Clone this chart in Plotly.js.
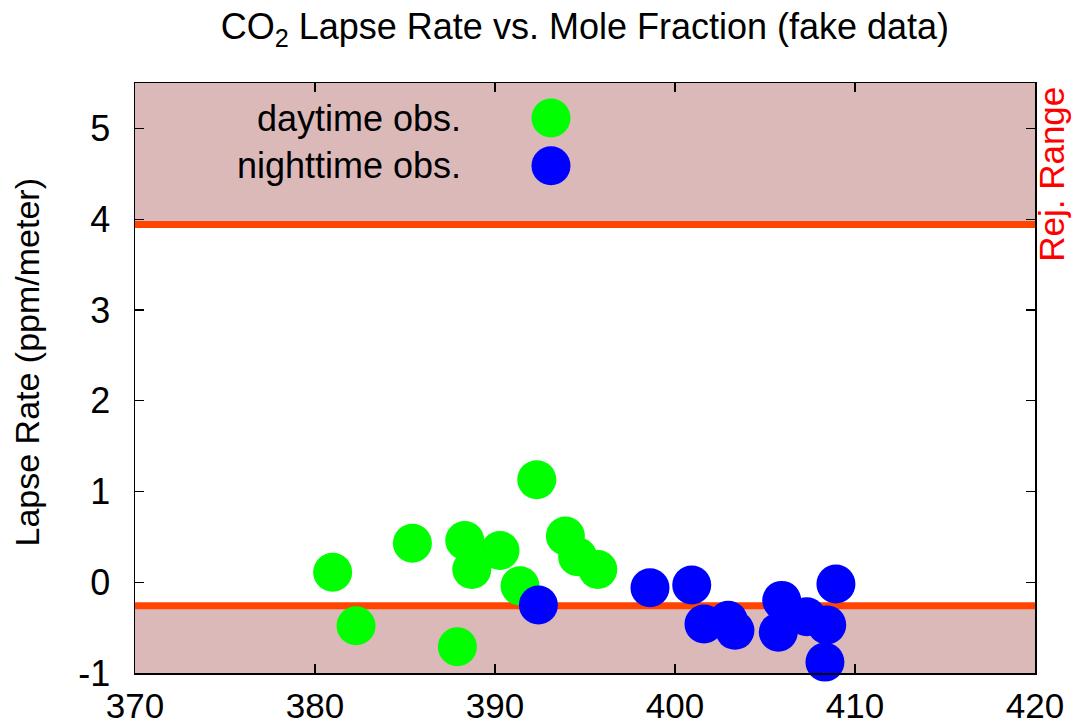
<!DOCTYPE html>
<html>
<head>
<meta charset="utf-8">
<script src="https://cdn.plot.ly/plotly-3.0.1.min.js"></script>
<style>html,body{margin:0;padding:0;background:#fff;}#chart{width:1076px;height:727px;}</style>
</head>
<body>
<div id="chart"></div>
<script>
// Data
const dayX = [380.98, 382.28, 385.41, 387.91, 388.32, 388.71, 390.28, 391.39, 392.32, 393.91, 394.59, 395.71];
const dayY = [0.11, -0.48, 0.43, -0.71, 0.46, 0.14, 0.35, -0.04, 1.13, 0.51, 0.28, 0.14];
const nightX = [392.41, 398.61, 400.93, 401.61, 402.96, 403.33, 405.74, 405.93, 407.32, 408.43, 408.33, 408.94];
const nightY = [-0.25, -0.06, -0.03, -0.46, -0.42, -0.53, -0.55, -0.20, -0.38, -0.47, -0.88, -0.02];
const rejectLow = -0.26;
const rejectHigh = 3.94;
const legendNames = ['daytime obs.', 'nighttime obs.'];
const xTicks = [370, 380, 390, 400, 410, 420];
const yTicks = [-1, 0, 1, 2, 3, 4, 5];

const FONT = 'Liberation Sans, Arial, Helvetica, sans-serif';
const GREEN = '#00ff00', BLUE = '#0000ff', RED = '#ff4500', SHADE = '#dcb9b9';

const traces = [
  {x: dayX, y: dayY, type: 'scatter', mode: 'markers', name: legendNames[0],
   marker: {color: GREEN, size: 39, line: {width: 0}}, showlegend: false, cliponaxis: false},
  {x: nightX, y: nightY, type: 'scatter', mode: 'markers', name: legendNames[1],
   marker: {color: BLUE, size: 39, line: {width: 0}}, showlegend: false, cliponaxis: false}
];

const yMin = -1, yMax = 5.5;

const layout = {
  width: 1076, height: 727,
  margin: {l: 135, r: 41, t: 83.3, b: 54.3},
  paper_bgcolor: '#ffffff', plot_bgcolor: '#ffffff',
  font: {family: FONT, size: 36, color: '#000'},
  title: {text: 'CO<sub>2</sub> Lapse Rate vs. Mole Fraction (fake data)',
          font: {family: FONT, size: 36, color: '#000'},
          x: 0.5436, xref: 'container', xanchor: 'center', y: 0.963, yref: 'container', yanchor: 'middle'},
  xaxis: {range: [370, 420], tickvals: xTicks, ticktext: xTicks.map(String),
          showgrid: false, zeroline: false, showline: true, linecolor: '#000', linewidth: 1.5,
          mirror: 'ticks', ticks: 'inside', ticklen: 9, tickwidth: 1.2, tickcolor: '#000',
          ticklabelstandoff: 1, tickfont: {family: FONT, size: 35, color: '#000'}},
  yaxis: {range: [yMin, yMax], tickvals: yTicks, ticktext: yTicks.map(String),
          showgrid: false, zeroline: false, showline: true, linecolor: '#000', linewidth: 1.5,
          mirror: 'ticks', ticks: 'inside', ticklen: 9, tickwidth: 1.2, tickcolor: '#000',
          ticklabelstandoff: 16, tickfont: {family: FONT, size: 36, color: '#000'}},
  shapes: [
    {type: 'rect', xref: 'paper', yref: 'y', x0: 0, x1: 1, y0: rejectHigh, y1: yMax,
     fillcolor: SHADE, line: {width: 0}, layer: 'below'},
    {type: 'rect', xref: 'paper', yref: 'y', x0: 0, x1: 1, y0: yMin, y1: rejectLow,
     fillcolor: SHADE, line: {width: 0}, layer: 'below'},
    {type: 'line', xref: 'paper', yref: 'y', x0: 0, x1: 1, y0: rejectHigh, y1: rejectHigh,
     line: {color: RED, width: 7}, layer: 'below'},
    {type: 'line', xref: 'paper', yref: 'y', x0: 0, x1: 1, y0: rejectLow, y1: rejectLow,
     line: {color: RED, width: 7}, layer: 'below'},
    // legend symbols
    {type: 'circle', xref: 'paper', yref: 'paper', xsizemode: 'pixel', ysizemode: 'pixel',
     xanchor: 0.4622, yanchor: 0.9406, x0: -19.5, x1: 19.5, y0: -19.5, y1: 19.5,
     fillcolor: GREEN, line: {width: 0}},
    {type: 'circle', xref: 'paper', yref: 'paper', xsizemode: 'pixel', ysizemode: 'pixel',
     xanchor: 0.4622, yanchor: 0.8597, x0: -19.5, x1: 19.5, y0: -19.5, y1: 19.5,
     fillcolor: BLUE, line: {width: 0}}
  ],
  annotations: [
    {text: 'Lapse Rate (ppm/meter)', xref: 'paper', yref: 'paper', x: -0.12, y: 0.5263,
     xanchor: 'center', yanchor: 'middle', textangle: -90, showarrow: false,
     font: {family: FONT, size: 34, color: '#000'}},
    {text: legendNames[0], xref: 'paper', yref: 'paper', x: 0.3644, y: 0.9406,
     xanchor: 'right', yanchor: 'middle', showarrow: false, font: {family: FONT, size: 36, color: '#000'}},
    {text: legendNames[1], xref: 'paper', yref: 'paper', x: 0.3644, y: 0.8597,
     xanchor: 'right', yanchor: 'middle', showarrow: false, font: {family: FONT, size: 36, color: '#000'}},
    {text: 'Rej. Range', xref: 'paper', yref: 'paper', x: 1, y: 0.8444, xshift: 17,
     xanchor: 'center', yanchor: 'middle', textangle: -90, showarrow: false,
     font: {family: FONT, size: 35, color: '#ff0000'}}
  ],
  showlegend: false
};

Plotly.newPlot('chart', traces, layout, {displayModeBar: false, staticPlot: true});
</script>
</body>
</html>
